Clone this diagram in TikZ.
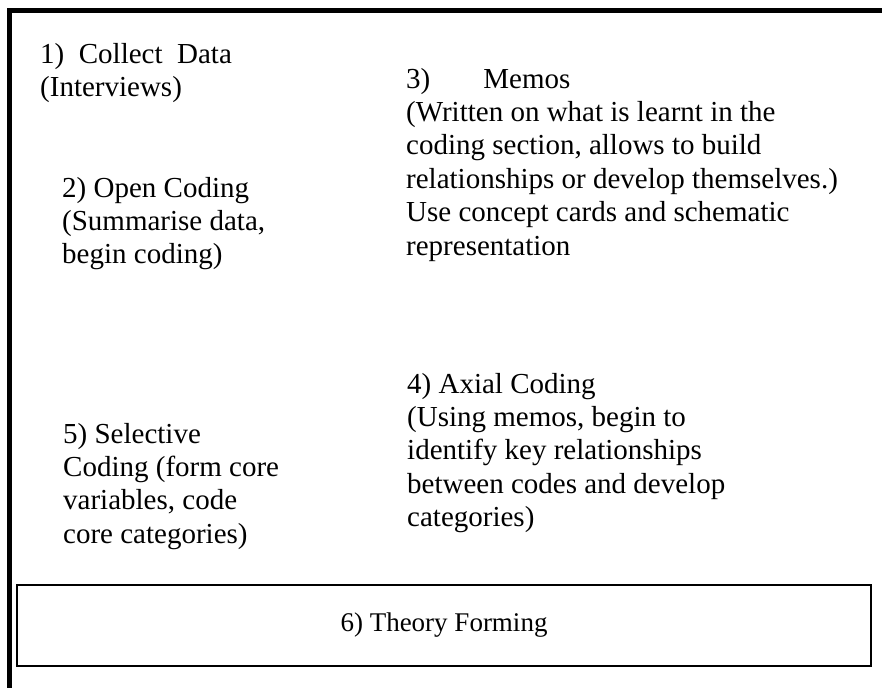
\documentclass[tikz,border=0pt]{standalone}
\usepackage{fontspec}
\setmainfont{Liberation Serif}
\begin{document}
\begin{tikzpicture}[x=1pt,y=-1pt,
  txt/.style={anchor=base west,inner sep=0pt,align=left,
    font=\fontsize{29}{33.4}\selectfont},
  theorybox/.style={draw,line width=1.3pt,minimum width=854pt,minimum height=81pt,
    inner sep=0pt,font=\fontsize{27}{31}\selectfont}]
\useasboundingbox (0,0) rectangle (882,688);
% outer frame (top and left sides only visible)
\draw[line width=5.5pt] (882,10.5) -- (9.5,10.5) -- (9.5,688);
% anchors are at the baseline of each block's last line
\node[txt] (collect) at (40,96.4) {1)\ \ Collect\ \ Data\\(Interviews)};
\node[txt] (open) at (62,263.8) {2) Open Coding\\(Summarise data,\\begin coding)};
\node[txt] (memos) at (406,255) {3)\hspace{53pt}Memos\\(Written on what is learnt in the\\coding section, allows to build\\relationships or develop themselves.)\\Use concept cards and schematic\\representation};
\node[txt] (axial) at (407,526.6) {4) Axial Coding\\(Using memos, begin to\\identify key relationships\\between codes and develop\\categories)};
\node[txt] (selective) at (63,543.2) {5) Selective\\Coding (form core\\variables, code\\core categories)};
\node[theorybox] (theory) at (444,625.5) {6) Theory Forming};
\end{tikzpicture}
\end{document}
